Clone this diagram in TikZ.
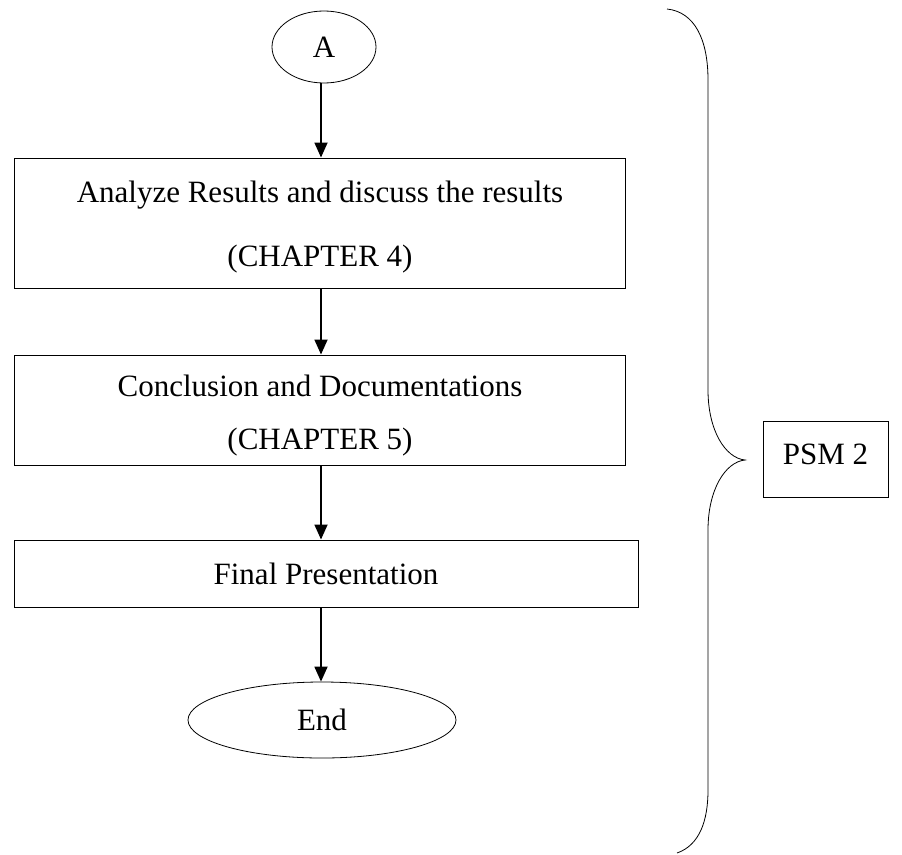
\documentclass[tikz,border=0pt]{standalone}
\usepackage{fontspec}
\setmainfont{Liberation Serif}
\usetikzlibrary{arrows.meta,shapes.geometric}
\begin{document}
\begin{tikzpicture}[x=1pt,y=-1pt,
  stepbox/.style={draw, line width=1pt, inner sep=0pt},
  txt/.style={inner sep=0pt, align=center, font=\fontsize{31}{37}\selectfont},
  oval/.style={draw, ellipse, line width=0.8pt, inner sep=0pt, font=\fontsize{31}{37}\selectfont},
  arr/.style={line width=1.8pt, -{Triangle[length=15pt,width=13pt]}},
  brace/.style={line width=0.8pt}]
\useasboundingbox (0,0) rectangle (902,854);
\node[oval, minimum width=104pt, minimum height=72pt] (a) at (324,47) {A};
\node[stepbox, minimum width=611pt, minimum height=130pt] (b1) at (319.5,223) {};
\node[txt, font=\fontsize{31}{64}\selectfont] (b1t) at (320,227) {Analyze Results and discuss the results\\(CHAPTER 4)};
\node[stepbox, minimum width=611pt, minimum height=110pt] (b2) at (319.5,410) {};
\node[txt, font=\fontsize{31}{53}\selectfont] (b2t) at (320,416) {Conclusion and Documentations\\(CHAPTER 5)};
\node[stepbox, minimum width=624pt, minimum height=67pt] (b3) at (326,573.5) {};
\node[txt] (b3t) at (326,574) {Final Presentation};
\node[oval, minimum width=268pt, minimum height=76pt] (e) at (322,720) {End};
\node[stepbox, minimum width=125pt, minimum height=76pt] (p) at (825.5,459) {};
\node[txt] (pt) at (825.5,454) {PSM 2};
\coordinate (ax) at (321,0);
\draw[arr] (a.south -| ax) -- (b1.north -| ax);
\draw[arr] (b1.south -| ax) -- (b2.north -| ax);
\draw[arr] (b2.south -| ax) -- (b3.north -| ax);
\draw[arr] (b3.south -| ax) -- (e.north -| ax);
\draw[brace] (667,9) .. controls (695,12) and (708,40) .. (708,80) -- (708,390)
  .. controls (708,430) and (725,458) .. (745,460)
  .. controls (725,462) and (708,490) .. (708,530) -- (708,790)
  .. controls (708,820) and (700,845) .. (677,853);
\end{tikzpicture}
\end{document}
